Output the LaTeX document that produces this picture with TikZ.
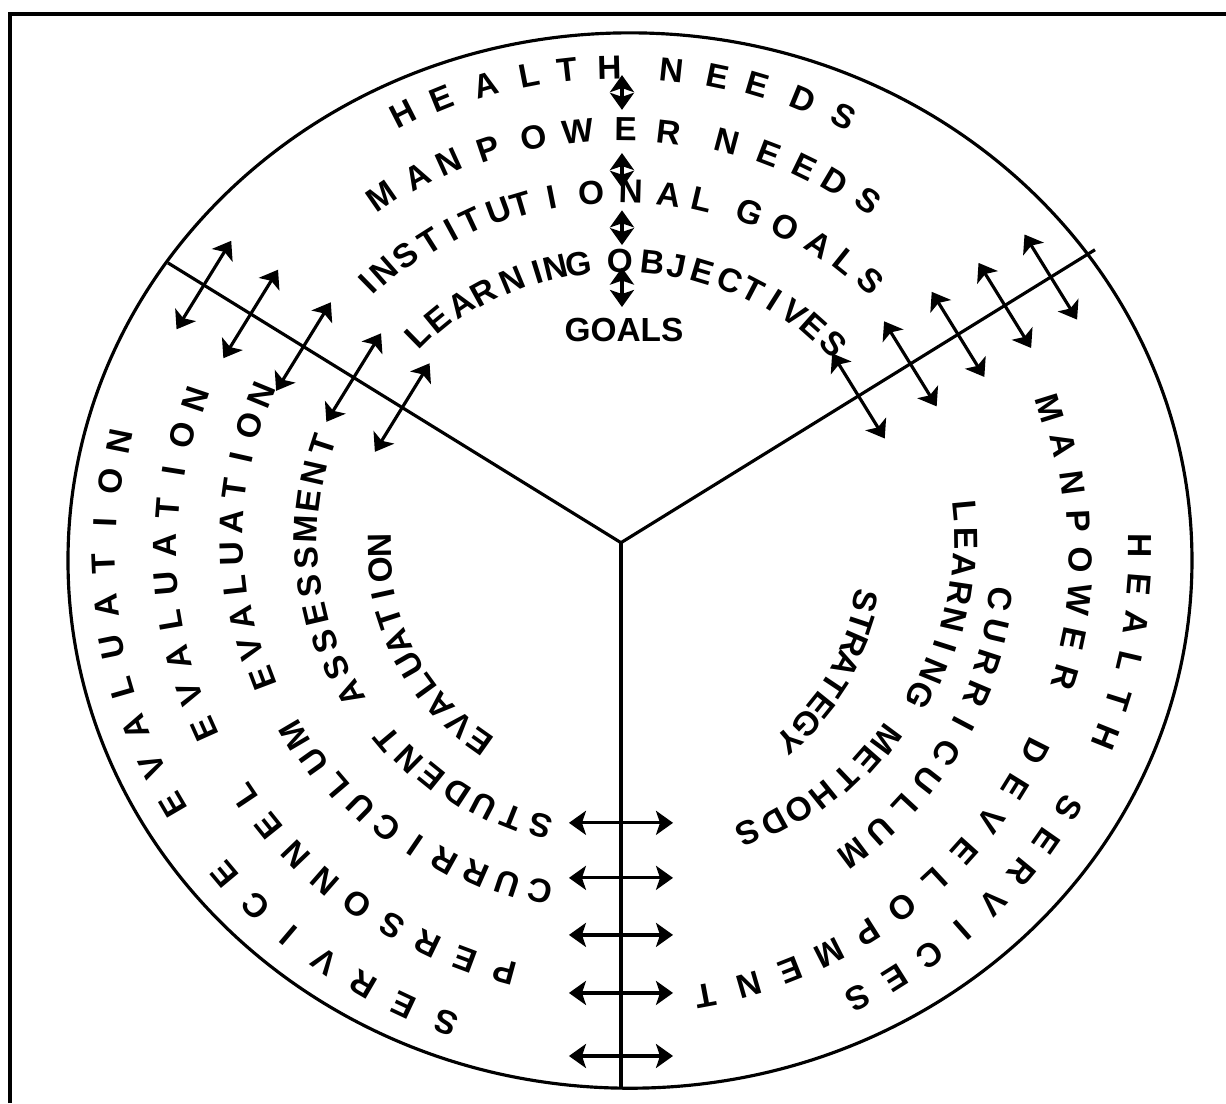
\documentclass[tikz,border=0pt]{standalone}
\usepackage{fontspec}
\setmainfont{Liberation Sans}
\usetikzlibrary{arrows.meta,calc}

\tikzset{
  ringletter/.style={font=\bfseries\fontsize{9.5}{10}\selectfont, inner sep=0pt},
  rimline/.style={line width=0.9pt},
  dblarrow/.style={line width=0.9pt, {Stealth[length=1.7mm,width=2.4mm,inset=0.4mm]}-{Stealth[length=1.7mm,width=2.4mm,inset=0.4mm]}}
}

% one word per ring, set letter by letter round (J): even steps
\newcommand{\ringword}[6]{% name, first radius, radius step, first angle, angle step, letters
  \foreach \ch [count=\k from 0] in {#6} {
    \pgfmathsetmacro{\ang}{#4+\k*#5}
    \pgfmathsetmacro{\rad}{#2+\k*#3}
    \pgfmathsetmacro{\rot}{atan2(0.938*sin(\ang),cos(\ang))-90}
    \node[ringletter, rotate=\rot] (#1-\k) at ($(J)+(\ang:\rad)$) {\ch};
  }}
% same, every letter at its own angle
\newcommand{\ringat}[3]{% name, radius, angle/letter list
  \foreach \ang/\ch [count=\k] in {#3} {
    \pgfmathsetmacro{\rot}{atan2(0.938*sin(\ang),cos(\ang))-90}
    \node[ringletter, rotate=\rot] (#1-\k) at ($(J)+(\ang:#2)$) {\ch};
  }}

\begin{document}
\begin{tikzpicture}[x=0.01cm, y=0.00938cm]
\useasboundingbox (-626,-578) rectangle (600,597);

% Frame
\draw[line width=1pt] (-616,-578) -- (-616,582) -- (600,582);

% Circle and sectors
\draw[rimline] (4,0) circle[radius=562];
\coordinate (J) at (-5,19);
\coordinate (L) at (-458,317);
\coordinate (R) at (469,331);
\coordinate (B) at (-5,-563);
\draw[rimline] (L) -- (J) -- (R);
\draw[rimline] (J) -- (B);

% Arrows between goal rings
\foreach \a/\b [count=\i] in {517/480, 434/397, 373/336, 312/270} {
  \coordinate (ta\i) at (-4,\a);
  \coordinate (tb\i) at (-4,\b);
  \draw[dblarrow] (ta\i) -- (tb\i);
}

% Arrows across the sector lines
\foreach \d [count=\i] in {2.57cm,3.14cm,3.73cm,4.35cm,4.90cm} {
  \coordinate (l\i) at ($(J)!\d!(L)$);
  \draw[dblarrow] ($(l\i)!5.2mm!90:(L)$) -- ($(l\i)!5.2mm!-90:(L)$);
}
\foreach \d [count=\i] in {2.79cm,3.40cm,3.96cm,4.51cm,5.05cm} {
  \coordinate (r\i) at ($(J)!\d!(R)$);
  \draw[dblarrow] ($(r\i)!5mm!90:(R)$) -- ($(r\i)!5mm!-90:(R)$);
}
\foreach \d [count=\i] in {2.80cm,3.35cm,3.92cm,4.50cm,5.13cm} {
  \coordinate (b\i) at ($(J)!\d!(B)$);
  \draw[dblarrow] ($(b\i)!5.2mm!90:(B)$) -- ($(b\i)!5.2mm!-90:(B)$);
}

% Goals
\ringat{hneeds}{506}{115.5/H,110.8/E,105.5/A,100.4/L,96.1/T,91.3/H,
  84.3/N,79.0/E,74.4/E,68.9/D,63.9/S}
\ringat{mneeds}{440}{123.0/M,117.5/A,113.0/N,107.5/P,101.5/O,95.6/W,89.4/E,83.7/R,
  76.0/N,70.3/E,65.4/E,60.9/D,55.8/S}
\ringat{igoals}{374}{132.6/I,129.4/N,125.1/S,120.8/T,117.0/I,113.6/T,109.0/U,105.5/T,
  100.6/I,94.5/O,88.5/N,82.6/A,77.5/L,69.9/G,64.0/O,58.0/A,53.1/L,48.2/S}
\ringat{lobj}{300}{132.6/L,127.6/E,122.1/A,117.2/R,111.3/N,106.2/I,102.6/N,98.2/G,
  90.2/O,84.0/B,79.3/J,74.2/E,68.7/C,63.9/T,59.3/I,54.8/V,50.1/E,44.8/S}
\node[ringletter] (goals) at (-2,245) {GOALS};

% Strategy
\ringword{hserv}{519}{1.5}{-0.4}{-4.54}{H,E,A,L,T,H,{},S,E,R,V,I,C,E,S}
\ringword{mdev}{452}{2.0}{18.4}{-5.18}{M,A,N,P,O,W,E,R,{},D,E,V,E,L,O,P,M,E,N,T}
\ringword{curr}{384}{2.2}{-9}{-5.1}{C,U,R,R,I,C,U,L,U,M}
\ringword{lmeth}{346}{-0.8}{5.7}{-4.89}{L,E,A,R,N,I,N,G,{},M,E,T,H,O,D,S}
\ringword{strat}{252}{2.6}{-14.2}{-5.3}{S,T,R,A,T,E,G,Y}

% Evaluation
\ringword{seval}{540}{-1.6}{251.1}{-4.9}{S,E,R,V,I,C,E,{},E,V,A,L,U,A,T,I,O,N}
\ringword{peval}{471}{-1.0}{255.7}{-5.02}{P,E,R,S,O,N,N,E,L,{},E,V,A,L,U,A,T,I,O,N}
\ringword{ceval}{380}{0.6}{257.7}{-5.065}{C,U,R,R,I,C,U,L,U,M,{},E,V,A,L,U,A,T,I,O,N}
\ringword{sass}{312}{0.24}{255}{-5.54}{S,T,U,D,E,N,T,{},A,S,S,E,S,S,M,E,N,T}
\ringword{eval}{254}{-1.44}{236.3}{-6.17}{E,V,A,L,U,A,T,I,O,N}
\end{tikzpicture}
\end{document}
